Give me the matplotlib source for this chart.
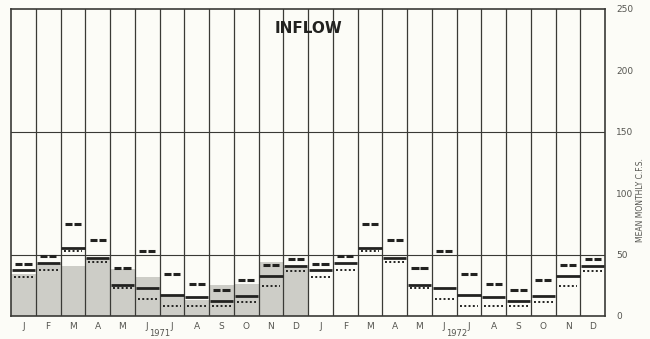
import numpy as np
import matplotlib.pyplot as plt

months = ["J", "F", "M", "A", "M", "J", "J", "A", "S", "O", "N", "D"]
years = ["1971", "1972"]

# actual 1971 inflow (shaded)
inflow_1971 = [34, 42, 41, 47, 38, 32, 16, 13, 25, 26, 44, 40]

# long-term statistics, same for both years
stat_dashed = [42, 49, 75, 62, 39, 53, 34, 26, 21, 29, 41.5, 46.5]
stat_solid = [37.5, 43, 55.5, 47.5, 25.5, 22.5, 17, 15.5, 12.5, 16, 32.5, 40.5]
stat_dotted = [32, 37, 53, 44, 23, 13.5, 7.7, 8, 8.2, 11.5, 24.3, 36.5]

yticks = [0, 50, 100, 150, 200, 250]

ink = "#3a3a36"
bg = "#fcfcf7"

fig = plt.figure(figsize=(6.5, 3.39), dpi=100, facecolor=bg)
ax = fig.add_axes([0.017, 0.068, 0.914, 0.906], facecolor=bg)

n = len(months) * len(years)
x = np.arange(n)
dashed = np.tile(stat_dashed, 2)
solid = np.tile(stat_solid, 2)
dotted = np.tile(stat_dotted, 2)

ax.bar(np.arange(12), inflow_1971, width=1, align="edge",
       color="#cdcdc7", edgecolor="none", zorder=1)

# grid
for xv in range(1, n):
    ax.axvline(xv, color=ink, lw=0.9, zorder=2)
for yv in [50, 150]:
    ax.axhline(yv, color=ink, lw=0.8, zorder=2)

ax.hlines(solid, x + 0.03, x + 0.97, color="#222220", lw=2.0, zorder=3)
ax.hlines(dashed, x + 0.17, x + 0.46, color="#222220", lw=2.2, zorder=3)
ax.hlines(dashed, x + 0.54, x + 0.83, color="#222220", lw=2.2, zorder=3)
ax.hlines(dotted, x + 0.12, x + 0.88, color="#222220", lw=1.4,
          linestyles=(0, (1, 1.2)), zorder=3)

ax.set_xlim(0, n)
ax.set_ylim(0, 250)
for s in ax.spines.values():
    s.set_color(ink)
    s.set_linewidth(1.2)

ax.set_xticks(x + 0.5)
ax.set_xticklabels(months * 2, fontsize=6.5, color="#555550")
ax.tick_params(axis="x", length=0, pad=4)

ax.yaxis.tick_right()
ax.set_yticks(yticks)
ax.set_yticklabels([str(v) for v in yticks], fontsize=6.5, color="#555550")
ax.tick_params(axis="y", length=0, pad=8)

for i, yr in enumerate(years):
    ax.text(6 + 12 * i, -0.058, yr, transform=ax.get_xaxis_transform(),
            ha="center", va="center", fontsize=6, color="#555550")

ax.text(12, 234, "INFLOW", ha="center", va="center", fontsize=11,
        fontweight="bold", color="#222220")

fig.text(0.985, 0.41, "MEAN MONTHLY C.F.S.", rotation=90, ha="center",
         va="center", fontsize=5.5, color="#555550")

fig.savefig("out.png", dpi=100, facecolor=bg)
